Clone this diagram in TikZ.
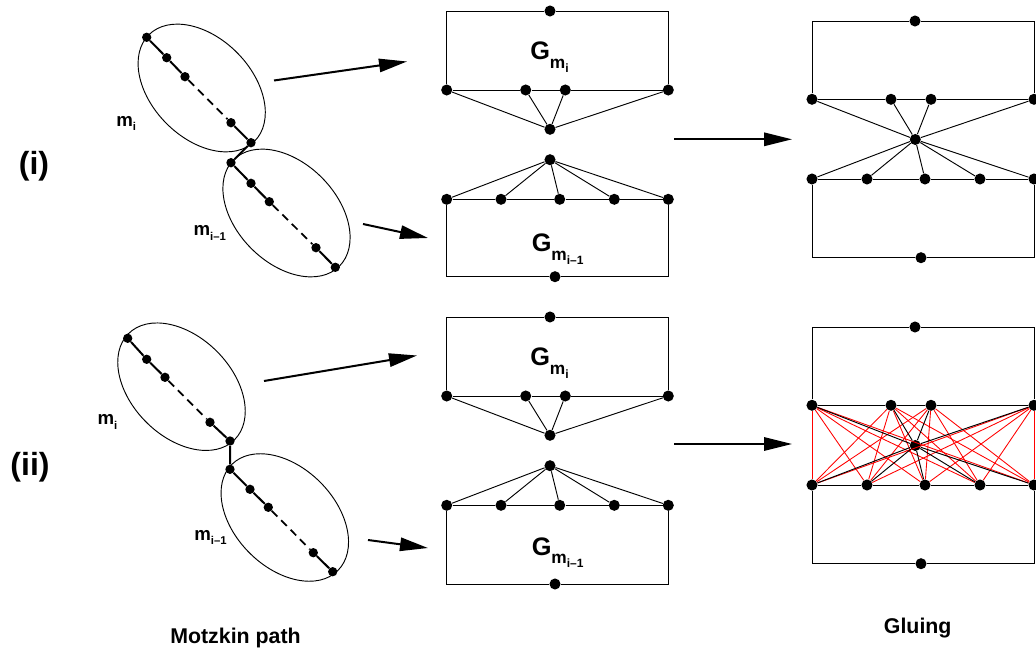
\documentclass[tikz,border=0pt]{standalone}
\usepackage{fontspec}
\setmainfont{Liberation Sans}
\usetikzlibrary{arrows.meta}
\newcommand{\Glab}[1]{G\raisebox{-0.32em}{\fontsize{13}{14}\selectfont m\raisebox{-0.28em}{\fontsize{9}{10}\selectfont #1}}}
\newcommand{\mlab}[1]{m\raisebox{-0.22em}{\fontsize{8.5}{9}\selectfont #1}}
\begin{document}
\begin{tikzpicture}[x=0.75pt,y=-0.75pt,
  bdot/.style={circle,fill=black,inner sep=0pt,minimum size=8.3pt},
  pdot/.style={circle,fill=black,inner sep=0pt,minimum size=7pt},
  gedge/.style={line width=0.7pt},
  redge/.style={red,line width=0.65pt},
  pline/.style={line width=1.5pt},
  pdash/.style={line width=1.3pt,dash pattern=on 6pt off 4pt},
  ring/.style={line width=0.7pt},
  bigarrow/.style={line width=1.5pt,-{Triangle[length=21pt,width=10pt]}},
  glab/.style={font=\fontsize{19}{22}\selectfont\bfseries,inner sep=0pt},
  mlabel/.style={font=\fontsize{14}{16}\selectfont\bfseries,inner sep=0pt},
  rlab/.style={font=\fontsize{24}{28}\selectfont\bfseries,inner sep=0pt},
  captxt/.style={font=\fontsize{16}{19}\selectfont\bfseries,inner sep=0pt}]
\useasboundingbox (0,0) rectangle (1036,652);

% ---------- middle boxes and right graphs ----------
\foreach \s/\dy/\bb/\gb in {A/0/276.7/252, B/306/584/555}{
  % top box
  \node[bdot] (\s-at) at (550,11+\dy) {};
  \node[bdot] (\s-a1) at (446.7,90+\dy) {};
  \node[bdot] (\s-a2) at (525.7,90+\dy) {};
  \node[bdot] (\s-a3) at (565.3,90+\dy) {};
  \node[bdot] (\s-a4) at (668.3,90+\dy) {};
  \node[bdot] (\s-ac) at (550,129.3+\dy) {};
  \draw[gedge] (\s-a1) |- (\s-at) -| (\s-a4);
  \draw[gedge] (\s-a1) -- (\s-a2) -- (\s-a3) -- (\s-a4);
  \foreach \n in {a1,a2,a3,a4} \draw[gedge] (\s-\n) -- (\s-ac);
  \node[glab,anchor=base west] (\s-G1) at (530,60+\dy) {\Glab{i}};
  % bottom box
  \node[bdot] (\s-bp) at (550,159.7+\dy) {};
  \node[bdot] (\s-b1) at (446.7,199.3+\dy) {};
  \node[bdot] (\s-b2) at (501,199.3+\dy) {};
  \node[bdot] (\s-b3) at (559.7,199.3+\dy) {};
  \node[bdot] (\s-b4) at (614.3,199.3+\dy) {};
  \node[bdot] (\s-b5) at (668.3,199.3+\dy) {};
  \node[bdot] (\s-bb) at (555,\bb) {};
  \draw[gedge] (\s-b1) |- (\s-bb) -| (\s-b5);
  \draw[gedge] (\s-b1) -- (\s-b2) -- (\s-b3) -- (\s-b4) -- (\s-b5);
  \foreach \n in {b1,b2,b3,b4,b5} \draw[gedge] (\s-bp) -- (\s-\n);
  \node[glab,anchor=base west] (\s-G2) at (531.5,\gb) {\Glab{i--1}};
  % right glued graph
  \node[bdot] (\s-ct) at (915,21+\dy) {};
  \node[bdot] (\s-c1) at (812,99.3+\dy) {};
  \node[bdot] (\s-c2) at (891,99.3+\dy) {};
  \node[bdot] (\s-c3) at (931,99.3+\dy) {};
  \node[bdot] (\s-c4) at (1034,99.3+\dy) {};
  \node[bdot] (\s-cc) at (915.3,139.5+\dy) {};
  \node[bdot] (\s-d1) at (812,179+\dy) {};
  \node[bdot] (\s-d2) at (867,179+\dy) {};
  \node[bdot] (\s-d3) at (925,179+\dy) {};
  \node[bdot] (\s-d4) at (980,179+\dy) {};
  \node[bdot] (\s-d5) at (1034,179+\dy) {};
  \node[bdot] (\s-db) at (921,257.7+\dy) {};
  \draw[gedge] (\s-c1) |- (\s-ct) -| (\s-c4);
  \draw[gedge] (\s-d1) |- (\s-db) -| (\s-d5);
  \draw[gedge] (\s-c1) -- (\s-c2) -- (\s-c3) -- (\s-c4);
  \draw[gedge] (\s-d1) -- (\s-d2) -- (\s-d3) -- (\s-d4) -- (\s-d5);
}
% red complete bipartite edges in (ii)
\foreach \t in {c1,c2,c3,c4}
  \foreach \b in {d1,d2,d3,d4,d5}
    \draw[redge] (B-\t) -- (B-\b);
% black spokes to the glued centre
\foreach \s in {A,B}
  \foreach \n in {c1,c2,c3,c4,d1,d2,d3,d4,d5}
    \draw[gedge] (\s-\n) -- (\s-cc);

% ---------- Motzkin paths ----------
% (i)
\draw[ring,rotate around={-45.3:(201.7,88)}] (201.7,88) ellipse [x radius=75,y radius=50];
\draw[ring,rotate around={-45.3:(286.5,213)}] (286.5,213) ellipse [x radius=75,y radius=50];
\node[pdot] (A-p1) at (146.7,37.3) {};
\node[pdot] (A-p2) at (166.7,57.7) {};
\node[pdot] (A-p3) at (185,76.7) {};
\node[pdot] (A-p4) at (231,122.7) {};
\node[pdot] (A-p5) at (251,142.7) {};
\node[pdot] (A-p6) at (231,162.7) {};
\node[pdot] (A-p7) at (251,183.3) {};
\node[pdot] (A-p8) at (269.3,201.7) {};
\node[pdot] (A-p9) at (316,247.7) {};
\node[pdot] (A-p10) at (335.3,267.3) {};
% (ii)
\draw[ring,rotate around={-45:(181.5,386.7)}] (181.5,386.7) ellipse [x radius=75,y radius=50];
\draw[ring,rotate around={-45:(284.8,517.5)}] (284.8,517.5) ellipse [x radius=75,y radius=50];
\node[pdot] (B-p1) at (127.7,338.3) {};
\node[pdot] (B-p2) at (146.7,359.3) {};
\node[pdot] (B-p3) at (165,377.3) {};
\node[pdot] (B-p4) at (210,422.3) {};
\node[pdot] (B-p5) at (230,441) {};
\node[pdot] (B-p6) at (230,469.3) {};
\node[pdot] (B-p7) at (250,489.3) {};
\node[pdot] (B-p8) at (268.3,507.3) {};
\node[pdot] (B-p9) at (313.3,552.7) {};
\node[pdot] (B-p10) at (332.7,571.7) {};
\foreach \s in {A,B}{
  \draw[pline] (\s-p1) -- (\s-p2) -- (\s-p3);
  \draw[pdash] (\s-p3) -- (\s-p4);
  \draw[pline] (\s-p4) -- (\s-p5) -- (\s-p6) -- (\s-p7) -- (\s-p8);
  \draw[pdash] (\s-p8) -- (\s-p9);
  \draw[pline] (\s-p9) -- (\s-p10);
}
\node[mlabel,anchor=base west] (A-m1) at (116,126.7) {\mlab{i}};
\node[mlabel,anchor=base west] (A-m2) at (193.3,236) {\mlab{i--1}};
\node[mlabel,anchor=base west] (B-m1) at (97.3,425) {\mlab{i}};
\node[mlabel,anchor=base west] (B-m2) at (194,540.7) {\mlab{i--1}};

% ---------- arrows ----------
\coordinate (A-r1s) at (274,80.5);  \coordinate (A-r1e) at (407,61.5);
\coordinate (A-r2s) at (363,224);   \coordinate (A-r2e) at (428,238);
\coordinate (A-r3s) at (674,139.3); \coordinate (A-r3e) at (792,139.3);
\coordinate (B-r1s) at (264,381);   \coordinate (B-r1e) at (417,355.5);
\coordinate (B-r2s) at (368,540);   \coordinate (B-r2e) at (428,548);
\coordinate (B-r3s) at (674,444);   \coordinate (B-r3e) at (792,444);
\foreach \s in {A,B}
  \foreach \k in {1,2,3}
    \draw[bigarrow] (\s-r\k s) -- (\s-r\k e);

% ---------- labels ----------
\node[rlab] (lab-i) at (34,166) {(i)};
\node[rlab] (lab-ii) at (30,467) {(ii)};
\node[captxt,anchor=base] (lab-mp) at (235.5,643.3) {Motzkin path};
\node[captxt,anchor=base] (lab-gl) at (917.7,633.3) {Gluing};
\end{tikzpicture}
\end{document}
